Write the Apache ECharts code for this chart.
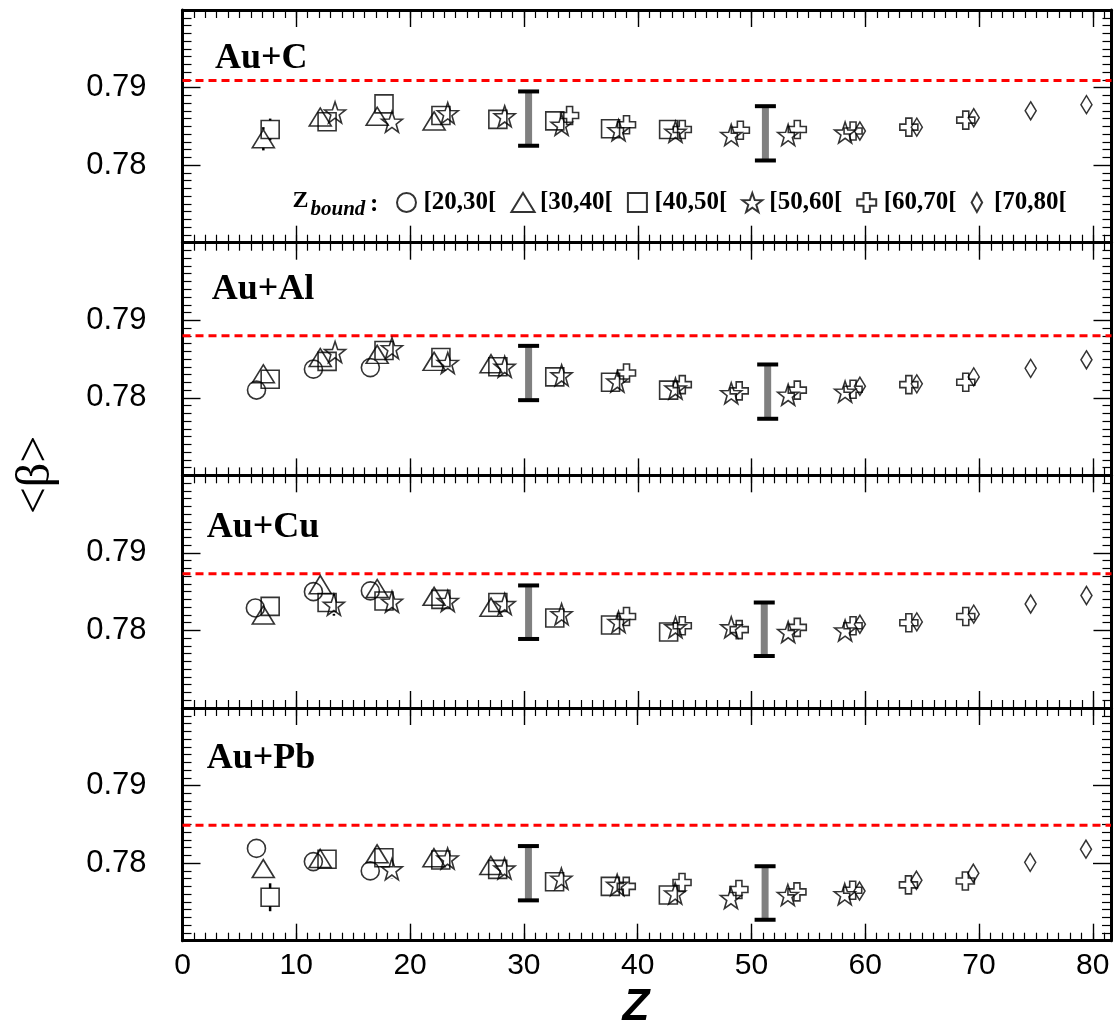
<!DOCTYPE html>
<html><head><meta charset="utf-8">
<script src="https://cdn.jsdelivr.net/npm/echarts@6/dist/echarts.min.js"></script>
<style>html,body{margin:0;padding:0;background:#fff}#c{width:1114px;height:1025px}</style>
</head><body><div id="c"></div><script>
// ---------------- data ----------------
const panelNames = ['Au+C', 'Au+Al', 'Au+Cu', 'Au+Pb'];
const binNames = ['[20,30[', '[30,40[', '[40,50[', '[50,60[', '[60,70[', '[70,80['];
const xTickLabels = [0, 10, 20, 30, 40, 50, 60, 70, 80];
const yTickLabels = [0.78, 0.79];
const xRange = [0, 81.6];
const yRange = [0.77, 0.80];

// Au+C
const auC_circle = [];
const auC_triangle = [[7.1,0.7834],[12.1,0.7862],[17.1,0.7863],[22.1,0.7857]];
const auC_square = [[7.7,0.7846],[12.7,0.7856],[17.7,0.7879],[22.7,0.7864],[27.7,0.7859],[32.7,0.7857],[37.6,0.7847],[42.7,0.7846]];
const auC_star = [[13.4,0.7868],[18.4,0.7856],[23.3,0.7867],[28.3,0.7863],[33.3,0.7852],[38.3,0.7845],[43.3,0.7843],[48.2,0.7839],[53.2,0.7839],[58.2,0.7842]];
const auC_cross = [[34.0,0.7864],[39.0,0.7852],[43.9,0.7846],[49.0,0.7845],[54.0,0.7846],[58.9,0.7844],[63.8,0.7849],[68.8,0.7858]];
const auC_diamond = [[59.5,0.7844],[64.5,0.7849],[69.5,0.7861],[74.5,0.7870],[79.4,0.7878]];
// Au+Al
const auAl_circle = [[6.5,0.7810],[11.5,0.7837],[16.5,0.7839]];
const auAl_triangle = [[7.1,0.7831],[12.1,0.7852],[17.1,0.7856],[22.1,0.7847],[27.1,0.7844]];
const auAl_square = [[7.7,0.7824],[12.7,0.7847],[17.7,0.7861],[22.7,0.7852],[27.7,0.7840],[32.7,0.7827],[37.6,0.7820],[42.7,0.7810]];
const auAl_star = [[13.4,0.7859],[18.4,0.7864],[23.3,0.7845],[28.3,0.7840],[33.3,0.7829],[38.2,0.7821],[43.3,0.7812],[48.2,0.7806],[53.2,0.7804],[58.2,0.7808]];
const auAl_cross = [[39.0,0.7832],[43.9,0.7817],[48.9,0.7809],[54.0,0.7810],[58.9,0.7811],[63.8,0.7817],[68.8,0.7820]];
const auAl_diamond = [[59.5,0.7815],[64.5,0.7818],[69.5,0.7827],[74.5,0.7838],[79.4,0.7849]];
// Au+Cu
const auCu_circle = [[6.4,0.7829],[11.5,0.7850],[16.5,0.7851]];
const auCu_triangle = [[7.1,0.7820],[12.1,0.7859],[17.1,0.7854],[22.1,0.7844],[27.1,0.7830]];
const auCu_square = [[7.7,0.7831],[12.7,0.7836],[17.7,0.7838],[22.7,0.7840],[27.7,0.7836],[32.7,0.7816],[37.6,0.7807],[42.7,0.7798]];
const auCu_star = [[13.3,0.7833],[18.4,0.7837],[23.3,0.7838],[28.3,0.7834],[33.3,0.7821],[38.3,0.7811],[43.3,0.7804],[48.2,0.7804],[53.2,0.7798],[58.2,0.7800]];
const auCu_cross = [[39.0,0.7818],[43.9,0.7806],[48.9,0.7801],[54.0,0.7804],[58.9,0.7806],[63.8,0.7810],[68.8,0.7818]];
const auCu_diamond = [[59.5,0.7808],[64.5,0.7811],[69.5,0.7821],[74.5,0.7834],[79.4,0.7845]];
// Au+Pb
const auPb_circle = [[6.5,0.7819],[11.5,0.7802],[16.5,0.7790]];
const auPb_triangle = [[7.1,0.7793],[12.1,0.7806],[17.1,0.7812],[22.1,0.7807],[27.1,0.7797]];
const auPb_square = [[7.7,0.7756],[12.7,0.7805],[17.7,0.7807],[22.7,0.7804],[27.7,0.7792],[32.7,0.7776],[37.6,0.7770],[42.7,0.7759]];
const auPb_star = [[18.4,0.7792],[23.3,0.7806],[28.3,0.7793],[33.3,0.7780],[38.2,0.7772],[43.3,0.7761],[48.2,0.7755],[53.2,0.7759],[58.2,0.7760]];
const auPb_cross = [[39.0,0.7770],[43.9,0.7775],[48.9,0.7766],[54.0,0.7763],[58.9,0.7765],[63.8,0.7772],[68.8,0.7777]];
const auPb_diamond = [[59.5,0.7764],[64.5,0.7778],[69.5,0.7787],[74.5,0.7801],[79.4,0.7818]];

// systematic error bars: [Z, low, high]
const auC_sys = [[30.4,0.7825,0.7895],[51.2,0.7806,0.7876]];
const auAl_sys = [[30.4,0.7797,0.7867],[51.4,0.7773,0.7843]];
const auCu_sys = [[30.4,0.7789,0.7858],[51.1,0.7767,0.7836]];
const auPb_sys = [[30.4,0.7752,0.7822],[51.2,0.7727,0.7796]];
// statistical error bars visible outside the markers: [Z, value, low, high]
const auC_stat = [[7.1,0.7834,0.7819,0.7849],[7.7,0.7846,0.7832,0.7860]];
const auAl_stat = [];
const auCu_stat = [[13.3,0.7833,0.7819,0.7847]];
const auPb_stat = [[7.7,0.7756,0.7738,0.7774],[18.4,0.7792,0.7780,0.7804]];
// reference (dashed) lines
const refLines = [0.7909, 0.7880, 0.7873, 0.7849];

// ---------------- build ----------------
const panelData = [
  [auC_circle, auC_triangle, auC_square, auC_star, auC_cross, auC_diamond],
  [auAl_circle, auAl_triangle, auAl_square, auAl_star, auAl_cross, auAl_diamond],
  [auCu_circle, auCu_triangle, auCu_square, auCu_star, auCu_cross, auCu_diamond],
  [auPb_circle, auPb_triangle, auPb_square, auPb_star, auPb_cross, auPb_diamond]
];
const panelSys = [auC_sys, auAl_sys, auCu_sys, auPb_sys];
const panelStat = [auC_stat, auAl_stat, auCu_stat, auPb_stat];

function starPath() {
  const p = [];
  for (let i = 0; i < 10; i++) {
    const r = i % 2 ? 0.4 : 1;
    const a = -Math.PI / 2 + i * Math.PI / 5;
    p.push((50 + 50 * r * Math.cos(a)).toFixed(2) + ',' + (50 + 50 * r * Math.sin(a)).toFixed(2));
  }
  return 'path://M' + p.join('L') + 'Z';
}
const STAR = starPath();
const CROSS = 'path://M1,0H2V1H3V2H2V3H1V2H0V1H1Z';
const symbols = ['circle', 'triangle', 'rect', STAR, CROSS, 'diamond'];
const symbolSizes = [18, [22, 18], 18, 21, 18, [11, 18]];
const legendIcons = ['circle', 'path://M11,0L22,18L0,18Z', 'path://M0,0H18V18H0Z', STAR, CROSS, 'path://M5,0L10,9L5,18L0,9Z'];

const tops = [10, 242.7, 475.3, 708], H = 232.7, L = 182.5, W = 929;
const black = '#000';
const grid = tops.map(t => ({ left: L, top: t, width: W, height: H }));
const xAxis = [], yAxis = [], series = [];

tops.forEach((t, g) => {
  ['bottom', 'top'].forEach(pos => {
    xAxis.push({
      gridIndex: g, type: 'value', position: pos, min: xRange[0], max: xRange[1], interval: 1,
      axisLine: { show: true, onZero: false, lineStyle: { color: black, width: 3 } },
      axisTick: { show: true, inside: true, length: 8, lineStyle: { color: black, width: 1.2 } },
      axisLabel: { show: false }, splitLine: { show: false }
    });
    xAxis.push({
      gridIndex: g, type: 'value', position: pos, min: xRange[0], max: xRange[1], interval: 10,
      axisLine: { show: false, onZero: false },
      axisTick: { show: true, inside: true, length: 17, lineStyle: { color: black, width: 1.4 } },
      axisLabel: {
        show: g === 3 && pos === 'bottom', margin: 10, color: black, fontSize: 30,
        fontFamily: '"Liberation Sans", Arial, sans-serif',
        formatter: v => xTickLabels.some(x => Math.abs(x - v) < 1e-6) ? String(v) : ''
      },
      splitLine: { show: false }
    });
  });
  ['left', 'right'].forEach(pos => {
    yAxis.push({
      gridIndex: g, type: 'value', position: pos, min: yRange[0], max: yRange[1], interval: 0.01,
      axisLine: { show: true, onZero: false, lineStyle: { color: black, width: 3 } },
      axisTick: { show: true, inside: true, length: 18, lineStyle: { color: black, width: 1.4 } },
      minorTick: { show: true, splitNumber: 10, length: 9, lineStyle: { color: black, width: 1.2 } },
      axisLabel: {
        show: pos === 'left', margin: 36, color: black, fontSize: 31,
        fontFamily: '"Liberation Sans", Arial, sans-serif',
        formatter: v => yTickLabels.some(y => Math.abs(y - v) < 1e-6) ? v.toFixed(2) : ''
      },
      splitLine: { show: false }, minorSplitLine: { show: false }
    });
  });
  const xi = g * 4, yi = g * 2;
  // reference dashed line
  series.push({
    type: 'line', xAxisIndex: xi, yAxisIndex: yi, silent: true, symbol: 'none', z: 1,
    data: [[xRange[0], refLines[g]], [xRange[1], refLines[g]]],
    lineStyle: { color: '#ff0000', width: 3, type: [8, 5] }
  });
  // systematic error bars
  series.push({
    type: 'custom', xAxisIndex: xi, yAxisIndex: yi, silent: true, z: 2,
    data: panelSys[g], encode: { x: 0, y: [1, 2] },
    renderItem: (params, api) => {
      const x = api.value(0);
      const lo = api.coord([x, api.value(1)]);
      const hi = api.coord([x, api.value(2)]);
      return { type: 'group', children: [
        { type: 'rect', shape: { x: hi[0] - 3.5, y: hi[1], width: 7, height: lo[1] - hi[1] }, style: { fill: '#808080' } },
        { type: 'rect', shape: { x: hi[0] - 10.5, y: hi[1] - 2, width: 21, height: 4 }, style: { fill: black } },
        { type: 'rect', shape: { x: lo[0] - 10.5, y: lo[1] - 2, width: 21, height: 4 }, style: { fill: black } }
      ] };
    }
  });
  // statistical error bars (drawn outside the marker)
  series.push({
    type: 'custom', xAxisIndex: xi, yAxisIndex: yi, silent: true, z: 2,
    data: panelStat[g], encode: { x: 0, y: [1, 2, 3] },
    renderItem: (params, api) => {
      const x = api.value(0);
      const c = api.coord([x, api.value(1)]);
      const lo = api.coord([x, api.value(2)]);
      const hi = api.coord([x, api.value(3)]);
      const half = 9;
      const ch = [];
      if (c[1] - half > hi[1]) ch.push({ type: 'line', shape: { x1: c[0], y1: hi[1], x2: c[0], y2: c[1] - half }, style: { stroke: black, lineWidth: 2.5 } });
      if (lo[1] > c[1] + half) ch.push({ type: 'line', shape: { x1: c[0], y1: c[1] + half, x2: c[0], y2: lo[1] }, style: { stroke: black, lineWidth: 2.5 } });
      return { type: 'group', children: ch };
    }
  });
  panelData[g].forEach((d, b) => {
    series.push({
      name: binNames[b], type: 'scatter', xAxisIndex: xi, yAxisIndex: yi, z: 3,
      data: d, symbol: symbols[b], symbolSize: symbolSizes[b],
      itemStyle: { color: 'rgba(0,0,0,0)', borderColor: black, borderWidth: 1.6 },
      emphasis: { disabled: true }
    });
  });
});

const serif = '"Liberation Serif", "Times New Roman", serif';
const graphic = [];
const labelPos = [[215, 59], [211.7, 290], [206.7, 528], [206.7, 759]];
panelNames.forEach((n, i) => {
  graphic.push({ type: 'text', silent: true, z: 10, style: { x: labelPos[i][0], y: labelPos[i][1], text: n, font: 'bold 36px ' + serif, fill: black, align: 'left', verticalAlign: 'middle' } });
});
graphic.push({ type: 'text', silent: true, z: 10, style: { x: 292.5, y: 200.5, text: 'Z', font: 'bold 24px ' + serif, fill: black, align: 'left', verticalAlign: 'middle' } });
graphic.push({ type: 'text', silent: true, z: 10, style: { x: 310.5, y: 210, text: 'bound', font: 'italic bold 21px ' + serif, fill: black, align: 'left', verticalAlign: 'middle' } });
graphic.push({ type: 'text', silent: true, z: 10, style: { x: 370, y: 205, text: ':', font: 'bold 25px ' + serif, fill: black, align: 'left', verticalAlign: 'middle' } });
graphic.push({ type: 'text', silent: true, z: 10, rotation: Math.PI / 2, x: 36, y: 475, style: { x: 0, y: 0, text: '<β>', font: '48px ' + serif, fill: black, align: 'center', verticalAlign: 'middle' } });
graphic.push({ type: 'text', silent: true, z: 10, style: { x: 636, y: 1008, text: 'Z', font: 'italic bold 44px "Liberation Sans", Arial, sans-serif', fill: black, align: 'center', verticalAlign: 'middle' } });

const option = {
  animation: false,
  backgroundColor: '#fff',
  grid, xAxis, yAxis, series, graphic,
  legend: {
    data: binNames.map((n, i) => ({ name: n, icon: legendIcons[i] })),
    left: 396, top: 190, padding: 0, itemGap: 14, itemWidth: 24, itemHeight: 19,
    selectedMode: false,
    textStyle: { color: black, fontSize: 25, fontWeight: 'bold', fontFamily: serif, padding: [0, 0, 0, 0] }
  }
};
const chart = echarts.init(document.getElementById('c'), null, { renderer: 'canvas' });
chart.setOption(option);
</script></body></html>
